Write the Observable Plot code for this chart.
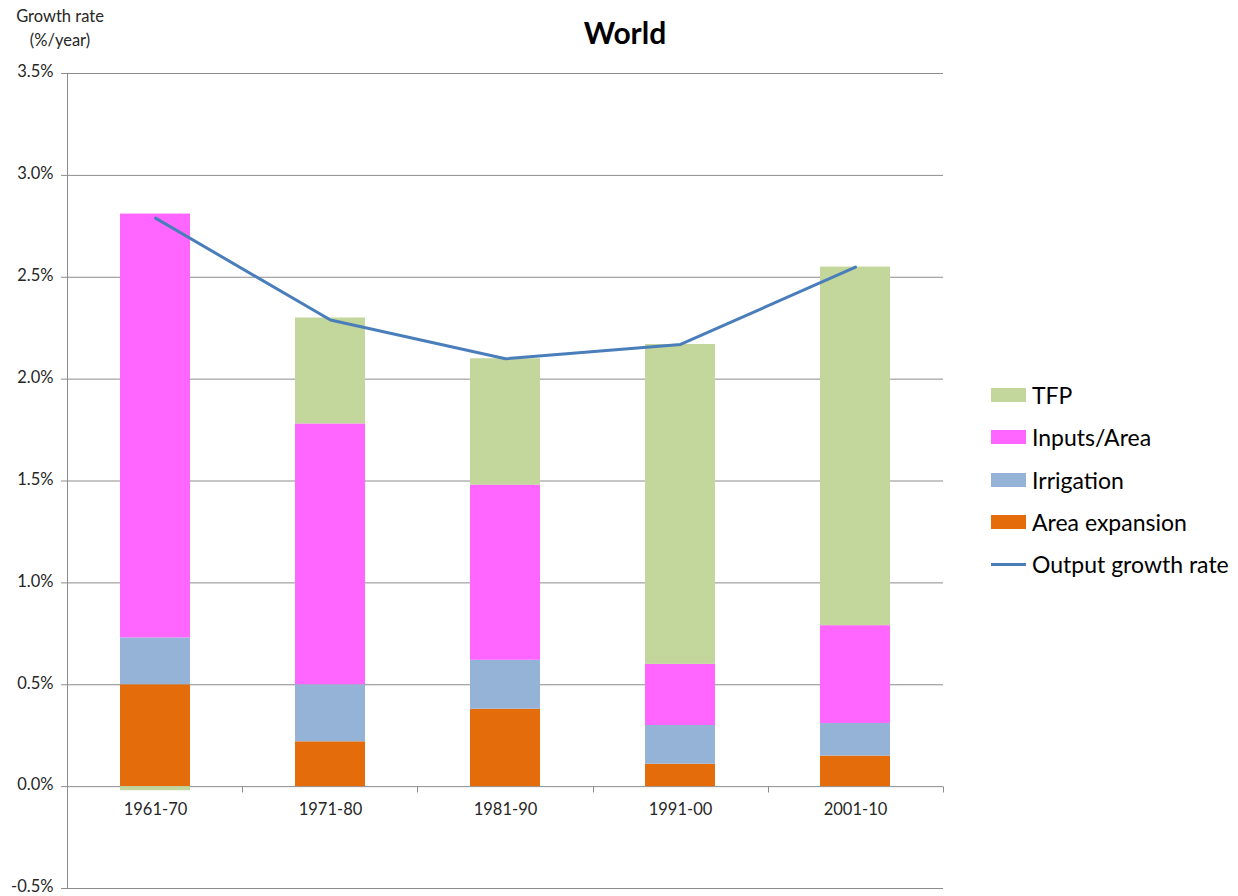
<!DOCTYPE html>
<html>
<head>
<meta charset="utf-8">
<script src="https://cdn.jsdelivr.net/npm/d3@7"></script>
<script src="https://cdn.jsdelivr.net/npm/@observablehq/plot@0.6"></script>
<style>
  html, body { margin: 0; padding: 0; background: #fff; }
  #wrap { position: relative; width: 1238px; height: 896px; font-family: Lato, "Open Sans", sans-serif; color: #262626; }
  #chart { position: absolute; left: 0; top: 0; }
  #title { position: absolute; left: 525px; width: 200px; top: 12px; text-align: center; font-size: 30px; line-height: 40px; font-weight: bold; color: #000; }
  #ylabel { position: absolute; left: 0px; top: 4px; width: 120px; text-align: center; font-size: 16.5px; line-height: 24px; color: #262626; }
  #legend { position: absolute; left: 991px; top: 374px; font-size: 23px; color: #000; }
  .item { display: flex; align-items: center; height: 42.25px; }
  .sw { width: 35px; height: 14px; margin-right: 6px; }
  .ln { width: 35px; height: 3px; margin-right: 6px; }
</style>
</head>
<body>
<div id="wrap">
  <div id="chart"></div>
  <div id="title">World</div>
  <div id="ylabel">Growth rate<br>(%/year)</div>
  <div id="legend"></div>
</div>
<script>
// Sources of world agricultural output growth by decade (% per year)
const periods = ["1961-70", "1971-80", "1981-90", "1991-00", "2001-10"];
const areaExpansion = [0.50, 0.22, 0.38, 0.11, 0.15];
const irrigation = [0.23, 0.28, 0.24, 0.19, 0.16];
const inputsPerArea = [2.08, 1.28, 0.86, 0.30, 0.48];
const tfp = [-0.02, 0.52, 0.62, 1.57, 1.76];
const outputGrowth = [2.79, 2.29, 2.10, 2.17, 2.55];

const yTicks = [-0.5, 0, 0.5, 1.0, 1.5, 2.0, 2.5, 3.0, 3.5];

const components = [
  {name: "Area expansion", values: areaExpansion, color: "#e46c0a"},
  {name: "Irrigation", values: irrigation, color: "#95b3d7"},
  {name: "Inputs/Area", values: inputsPerArea, color: "#ff66ff"},
  {name: "TFP", values: tfp, color: "#c3d69b"}
];
const lineColor = "#4a7ebb";

// long table for the stacked bars
const rows = components.flatMap(c => periods.map((p, i) => ({period: p, component: c.name, value: c.values[i]})));
const lineRows = periods.map((p, i) => ({period: p, value: outputGrowth[i]}));

const gridColor = "#8c8c8c";

// vertical y-axis line and category separator ticks below the zero line
const axisLines = (index, scales, values, dims) => {
  const g = d3.create("svg:g").attr("stroke", gridColor).attr("stroke-width", 1);
  const x0 = dims.marginLeft;
  const innerWidth = dims.width - dims.marginLeft - dims.marginRight;
  const step = innerWidth / periods.length;
  g.append("line").attr("x1", x0 + 0.5).attr("x2", x0 + 0.5)
    .attr("y1", dims.marginTop).attr("y2", dims.height - dims.marginBottom);
  const y0 = Math.round(scales.y(0)) + 0.5;
  periods.forEach((p, i) => {
    const xb = Math.round(x0 + step * (i + 1)) + 0.5;
    g.append("line").attr("x1", xb).attr("x2", xb).attr("y1", y0).attr("y2", y0 + 6);
  });
  return g.node();
};

const chart = Plot.plot({
  width: 1238,
  height: 896,
  marginLeft: 67,
  marginRight: 295,
  marginTop: 73,
  marginBottom: 8,
  style: {fontFamily: "Lato, 'Open Sans', sans-serif", fontSize: "16.5px", color: "#262626", background: "white", overflow: "visible"},
  x: {domain: periods, paddingInner: 0.6, paddingOuter: 0.3, axis: null, label: null},
  y: {domain: [-0.5, 3.5], axis: null, label: null},
  color: {domain: components.map(c => c.name), range: components.map(c => c.color)},
  marks: [
    Plot.ruleY(yTicks, {stroke: gridColor, strokeWidth: 1}),
    // y tick marks only; labels are drawn as text so they can be nudged independently
    Plot.axisY(yTicks, {tickSize: 6, stroke: gridColor, label: null, tickFormat: () => ""}),
    Plot.text(yTicks, {y: d => d, frameAnchor: "left", dx: -14, dy: -1.5, textAnchor: "end",
      fill: "#262626", fontSize: 16.5, text: d => d.toFixed(1) + "%"}),
    Plot.barY(rows, {x: "period", y: "value", fill: "component", order: components.map(c => c.name)}),
    axisLines,
    Plot.lineY(lineRows, {x: "period", y: "value", stroke: lineColor, strokeWidth: 3}),
    Plot.text(periods, {x: d => d, y: 0, dy: 23, fill: "#262626", fontSize: 16.5})
  ]
});
document.getElementById("chart").appendChild(chart);

// legend, top entry first as in the stack
const legend = document.getElementById("legend");
[...components].reverse().forEach(c => {
  const item = document.createElement("div");
  item.className = "item";
  item.innerHTML = `<div class="sw" style="background:${c.color}"></div><span>${c.name}</span>`;
  legend.appendChild(item);
});
const li = document.createElement("div");
li.className = "item";
li.innerHTML = `<div class="ln" style="background:${lineColor}"></div><span>Output growth rate</span>`;
legend.appendChild(li);
</script>
</body>
</html>
